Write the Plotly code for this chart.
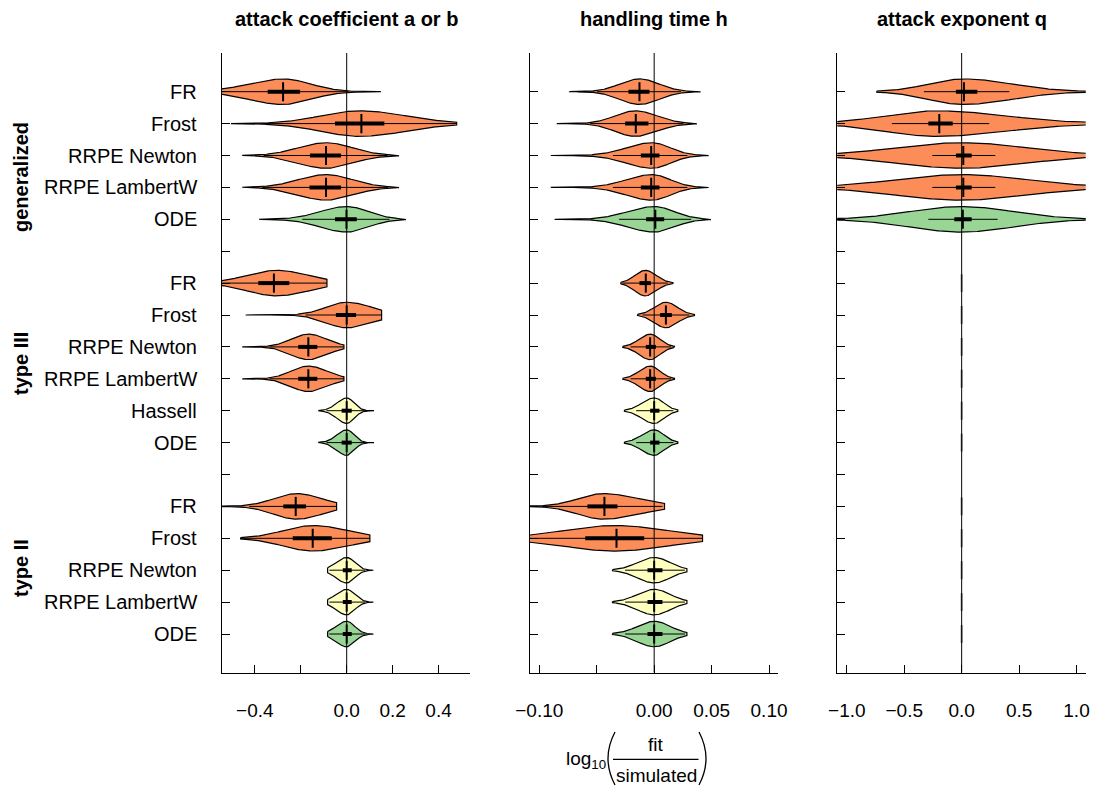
import numpy as np
import plotly.graph_objects as go

# ---------------- data ----------------
LABELS = ["FR", "Frost", "RRPE Newton", "RRPE LambertW", "ODE", "",
          "FR", "Frost", "RRPE Newton", "RRPE LambertW", "Hassell", "ODE", "",
          "FR", "Frost", "RRPE Newton", "RRPE LambertW", "ODE"]
ROW_KIND = ["o", "o", "o", "o", "g", None,
            "o", "o", "o", "o", "y", "g", None,
            "o", "o", "y", "y", "g"]
GROUPS = ["generalized", "type III", "type II"]
PANEL_TITLES = ["attack coefficient a or b", "handling time h", "attack exponent q"]

N = None
# panel 1: attack coefficient
A_MED = [-0.277, 0.064, -0.090, -0.090, -0.001, N, -0.317, 0.000, -0.167, -0.167, 0.000, 0.000, N, -0.222, -0.148, 0.000, 0.000, 0.000]
A_Q1 = [-0.344, -0.051, -0.160, -0.162, -0.051, N, -0.385, -0.047, -0.211, -0.211, -0.022, -0.022, N, -0.276, -0.235, -0.017, -0.017, -0.017]
A_Q3 = [-0.203, 0.164, -0.025, -0.025, 0.044, N, -0.250, 0.041, -0.128, -0.128, 0.022, 0.022, N, -0.177, -0.065, 0.022, 0.022, 0.022]
A_LO = [-0.700, -0.504, -0.455, -0.455, -0.382, N, -0.650, -0.440, -0.455, -0.455, -0.124, -0.124, N, -0.650, -0.462, -0.083, -0.083, -0.083]
A_HI = [0.149, 0.479, 0.228, 0.228, 0.258, N, -0.086, 0.152, -0.012, -0.012, 0.119, 0.119, N, -0.044, 0.101, 0.116, 0.116, 0.116]
A_MODE = [-0.277, 0.058, -0.090, -0.090, 0.000, N, -0.305, 0.000, -0.167, -0.167, 0.000, 0.000, N, -0.218, -0.145, 0.000, 0.000, 0.000]
A_SDL = [0.150, 0.170, 0.120, 0.120, 0.115, N, 0.130, 0.090, 0.075, 0.075, 0.042, 0.042, N, 0.100, 0.130, 0.046, 0.046, 0.046]
A_SDR = [0.120, 0.200, 0.115, 0.115, 0.095, N, 0.140, 0.110, 0.080, 0.080, 0.032, 0.032, N, 0.110, 0.150, 0.035, 0.035, 0.035]

# panel 2: handling time
H_MED = [-0.0128, -0.0160, -0.0026, -0.0026, 0.0010, N, -0.0073, 0.0102, -0.0035, -0.0035, 0.0000, 0.0000, N, -0.0433, -0.0328, 0.0000, 0.0000, 0.0000]
H_Q1 = [-0.0224, -0.0253, -0.0116, -0.0116, -0.0070, N, -0.0128, 0.0052, -0.0073, -0.0073, -0.0035, -0.0035, N, -0.0581, -0.0600, -0.0058, -0.0058, -0.0058]
H_Q3 = [-0.0041, -0.0050, 0.0046, 0.0046, 0.0087, N, -0.0029, 0.0154, 0.0015, 0.0015, 0.0046, 0.0046, N, -0.0320, -0.0087, 0.0072, 0.0072, 0.0072]
H_LO = [-0.0738, -0.0848, -0.0900, -0.0900, -0.0863, N, -0.0290, -0.0145, -0.0273, -0.0273, -0.0259, -0.0259, N, -0.1300, -0.1400, -0.0363, -0.0363, -0.0363]
H_HI = [0.0404, 0.0372, 0.0474, 0.0474, 0.0494, N, 0.0163, 0.0351, 0.0177, 0.0177, 0.0206, 0.0206, N, 0.0090, 0.0421, 0.0285, 0.0285, 0.0285]
H_MODE = [-0.0128, -0.0166, -0.0020, -0.0020, 0.0000, N, -0.0078, 0.0102, -0.0035, -0.0035, 0.0000, 0.0000, N, -0.0442, -0.0340, 0.0000, 0.0000, 0.0000]
H_SDL = [0.0170, 0.0175, 0.0220, 0.0220, 0.0230, N, 0.0090, 0.0100, 0.0095, 0.0095, 0.0105, 0.0105, N, 0.0220, 0.0450, 0.0145, 0.0145, 0.0145]
H_SDR = [0.0170, 0.0190, 0.0160, 0.0160, 0.0175, N, 0.0095, 0.0100, 0.0085, 0.0085, 0.0085, 0.0085, N, 0.0310, 0.0460, 0.0138, 0.0138, 0.0138]

# panel 3: attack exponent (fixed for type II / type III -> degenerate at 0)
Q_MED = [0.020, -0.195, 0.014, 0.014, 0.010, N, 0, 0, 0, 0, 0, 0, N, 0, 0, 0, 0, 0]
Q_Q1 = [-0.050, -0.290, -0.050, -0.050, -0.064, N, N, N, N, N, N, N, N, N, N, N, N, N]
Q_Q3 = [0.136, -0.078, 0.087, 0.087, 0.087, N, N, N, N, N, N, N, N, N, N, N, N, N]
Q_LO = [-0.740, -1.500, -1.500, -1.500, -1.500, N, N, N, N, N, N, N, N, N, N, N, N, N]
Q_HI = [1.500, 1.500, 1.500, 1.500, 1.500, N, N, N, N, N, N, N, N, N, N, N, N, N]
Q_MODE = [0.014, -0.218, 0.000, 0.000, 0.000, N, N, N, N, N, N, N, N, N, N, N, N, N]
Q_SDL = [0.300, 0.450, 0.570, 0.570, 0.450, N, N, N, N, N, N, N, N, N, N, N, N, N]
Q_SDR = [0.420, 0.600, 0.570, 0.570, 0.450, N, N, N, N, N, N, N, N, N, N, N, N, N]

# labelled ticks and unlabelled (minor) ticks per panel
A_TICKS = [-0.4, 0.0, 0.2, 0.4]
A_TICKTEXT = ["\u22120.4", "0.0", "0.2", "0.4"]
A_MINOR = [-0.2]
H_TICKS = [-0.10, 0.0, 0.05, 0.10]
H_TICKTEXT = ["\u22120.10", "0.00", "0.05", "0.10"]
H_MINOR = [-0.05]
Q_TICKS = [-1.0, -0.5, 0.0, 0.5, 1.0]
Q_TICKTEXT = ["\u22121.0", "\u22120.5", "0.0", "0.5", "1.0"]
Q_MINOR = []

# ---------------- styling ----------------
W, H = 1099, 789
FONT = "Liberation Sans, Arial, Helvetica, sans-serif"
FILL = {"o": "#FC8D59", "y": "#FFFFBF", "g": "#99D594"}
NROW = len(LABELS)
ROW_Y = [NROW - 1 - i for i in range(NROW)]
Y_RANGE = [-1.213, NROW - 1 + 1.213]
HALF = 0.4

PANELS = [
    dict(med=A_MED, q1=A_Q1, q3=A_Q3, lo=A_LO, hi=A_HI, mode=A_MODE, sl=A_SDL, sr=A_SDR,
         rng=[-0.543, 0.537], ticks=A_TICKS, ticktext=A_TICKTEXT, minor=A_MINOR, dom=[222, 470]),
    dict(med=H_MED, q1=H_Q1, q3=H_Q3, lo=H_LO, hi=H_HI, mode=H_MODE, sl=H_SDL, sr=H_SDR,
         rng=[-0.1081, 0.1078], ticks=H_TICKS, ticktext=H_TICKTEXT, minor=H_MINOR, dom=[530, 778]),
    dict(med=Q_MED, q1=Q_Q1, q3=Q_Q3, lo=Q_LO, hi=Q_HI, mode=Q_MODE, sl=Q_SDL, sr=Q_SDR,
         rng=[-1.083, 1.080], ticks=Q_TICKS, ticktext=Q_TICKTEXT, minor=Q_MINOR, dom=[837.3, 1085.7]),
]

fig = go.Figure()

for p, P in enumerate(PANELS):
    xa = "x" if p == 0 else f"x{p+1}"
    ya = "y" if p == 0 else f"y{p+1}"
    wx, wy, bx, by, mx, my, gx, gy = [], [], [], [], [], [], [], []
    for i in range(NROW):
        kind = ROW_KIND[i]
        if kind is None:
            continue
        yc = ROW_Y[i]
        lo = P["lo"][i]
        if lo is None:
            if P["med"][i] is not None:
                gx += [P["med"][i], P["med"][i], None]
                gy += [yc - 0.28, yc + 0.28, None]
            continue
        hi, mode, sl, sr = P["hi"][i], P["mode"][i], P["sl"][i], P["sr"][i]
        xs = np.linspace(lo, hi, 240)
        s = np.where(xs < mode, sl, sr)
        w = HALF * np.exp(-0.5 * ((xs - mode) / s) ** 2)
        px = np.concatenate([xs, xs[::-1], xs[:1]])
        py = np.concatenate([yc + w, (yc - w)[::-1], [yc + w[0]]])
        fig.add_trace(go.Scatter(x=px, y=py, mode="lines", fill="toself",
                                 fillcolor=FILL[kind], line=dict(color="black", width=1.2),
                                 xaxis=xa, yaxis=ya, hoverinfo="skip", showlegend=False))
        q1, q3, med = P["q1"][i], P["q3"][i], P["med"][i]
        iqr = q3 - q1
        wlo = max(lo, q1 - 1.5 * iqr)
        whi = min(hi, q3 + 1.5 * iqr)
        wx += [wlo, whi, None]; wy += [yc, yc, None]
        bx += [q1, q3, None]; by += [yc, yc, None]
        mx += [med, med, None]; my += [yc - 0.3, yc + 0.3, None]
    if gx:
        fig.add_trace(go.Scatter(x=gx, y=gy, mode="lines", line=dict(color="#7a7a7a", width=2),
                                 xaxis=xa, yaxis=ya, hoverinfo="skip", showlegend=False))
    fig.add_trace(go.Scatter(x=wx, y=wy, mode="lines", line=dict(color="black", width=1),
                             xaxis=xa, yaxis=ya, hoverinfo="skip", showlegend=False))
    fig.add_trace(go.Scatter(x=bx, y=by, mode="lines", line=dict(color="black", width=4),
                             xaxis=xa, yaxis=ya, hoverinfo="skip", showlegend=False))
    fig.add_trace(go.Scatter(x=mx, y=my, mode="lines", line=dict(color="black", width=2),
                             xaxis=xa, yaxis=ya, hoverinfo="skip", showlegend=False))
    # zero reference line
    fig.add_shape(type="line", xref=xa, yref=ya, x0=0, x1=0, y0=Y_RANGE[0], y1=Y_RANGE[1],
                  line=dict(color="black", width=1), layer="above")

    axis_common = dict(showgrid=False, zeroline=False, showline=True, linecolor="black",
                       linewidth=1, ticks="inside", ticklen=8, tickwidth=1, tickcolor="black")
    xkey = "xaxis" if p == 0 else f"xaxis{p+1}"
    ykey = "yaxis" if p == 0 else f"yaxis{p+1}"
    xdict = dict(domain=[P["dom"][0] / W, P["dom"][1] / W], range=P["rng"], anchor=ya,
                 tickmode="array", tickvals=P["ticks"], ticktext=P["ticktext"],
                 tickfont=dict(family=FONT, size=19, color="black"),
                 ticklabelstandoff=20, **axis_common)
    if P["minor"]:
        xdict["minor"] = dict(tickmode="array", tickvals=P["minor"], ticks="inside",
                              ticklen=8, tickwidth=1, tickcolor="black", showgrid=False)
    fig.update_layout(**{
        xkey: xdict,
        ykey: dict(domain=[1 - 672.7 / H, 1 - 53 / H], range=Y_RANGE, anchor=xa,
                   tickmode="array", tickvals=ROW_Y, showticklabels=False, **axis_common),
    })
    # panel title
    fig.add_annotation(xref="paper", yref="paper", x=(P["dom"][0] + P["dom"][1]) / 2 / W,
                       y=1 - 19 / H, text=f"<b>{PANEL_TITLES[p]}</b>", showarrow=False,
                       xanchor="center", yanchor="middle",
                       font=dict(family=FONT, size=20, color="black"))

# row labels
for i, lab in enumerate(LABELS):
    if lab:
        fig.add_annotation(xref="paper", yref="y", x=199 / W, y=ROW_Y[i], text=lab,
                           showarrow=False, xanchor="right", yanchor="middle",
                           font=dict(family=FONT, size=20, color="black"))

# group labels (rotated)
for g, ypx in zip(GROUPS, [177, 364, 568]):
    fig.add_annotation(xref="paper", yref="paper", x=21 / W, y=1 - ypx / H,
                       text=f"<b>{g}</b>", textangle=-90, showarrow=False,
                       xanchor="center", yanchor="middle",
                       font=dict(family=FONT, size=20, color="black"))

# x-axis title: log10( fit / simulated )
fig.add_annotation(xref="paper", yref="paper", x=608 / W, y=1 - 760 / H,
                   text="log<sub>10</sub>", showarrow=False, xanchor="right", yanchor="middle",
                   font=dict(family=FONT, size=19, color="black"))
fig.add_annotation(xref="paper", yref="paper", x=656 / W, y=1 - 744 / H, text="fit",
                   showarrow=False, xanchor="center", yanchor="middle",
                   font=dict(family=FONT, size=19, color="black"))
fig.add_annotation(xref="paper", yref="paper", x=656 / W, y=1 - 775 / H, text="simulated",
                   showarrow=False, xanchor="center", yanchor="middle",
                   font=dict(family=FONT, size=19, color="black"))
fig.add_shape(type="line", xref="paper", yref="paper", x0=613 / W, x1=698.5 / W,
              y0=1 - 759.3 / H, y1=1 - 759.3 / H, line=dict(color="black", width=1.2))


def pp(x, y):
    return f"{x / W:.5f},{1 - y / H:.5f}"


fig.add_shape(type="path", xref="paper", yref="paper",
              path=f"M {pp(615, 732)} Q {pp(601, 758.5)} {pp(615, 785)}",
              line=dict(color="black", width=1.3))
fig.add_shape(type="path", xref="paper", yref="paper",
              path=f"M {pp(699, 732)} Q {pp(713, 758.5)} {pp(699, 785)}",
              line=dict(color="black", width=1.3))

fig.update_layout(width=W, height=H, margin=dict(l=0, r=0, t=0, b=0, autoexpand=False),
                  paper_bgcolor="white", plot_bgcolor="white", showlegend=False,
                  font=dict(family=FONT, color="black"))

fig.write_html("out.html", config={"displayModeBar": False, "staticPlot": True},
               post_script="document.body.style.margin='0px';document.body.style.overflow='hidden';")
